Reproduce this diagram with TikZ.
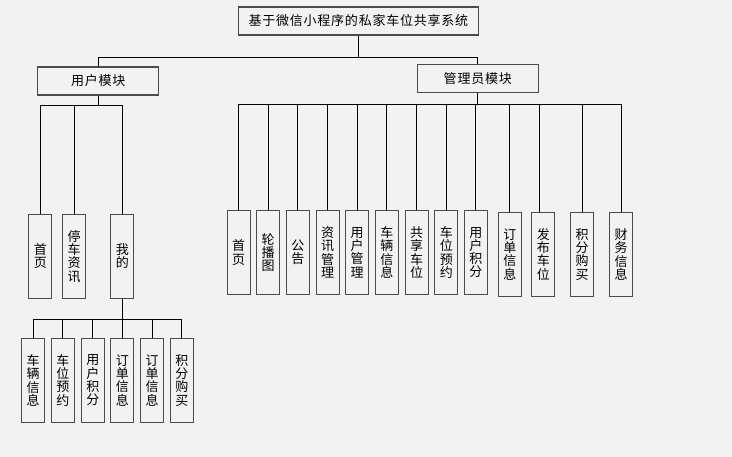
\documentclass[tikz,border=0pt]{standalone}
\usepackage{fontspec}
\setmainfont{Noto Sans CJK SC}
\newfontfamily\spacedfont[LetterSpace=6]{Noto Sans CJK SC}
\definecolor{bg}{RGB}{242,242,242}

\begin{document}
\begin{tikzpicture}[
      x=1pt, y=-1pt,
      font=\fontsize{13}{13.3}\selectfont,
      box/.style={draw=black!70, line width=1.3pt, fill=bg, inner sep=0pt, align=center},
      sysbox/.style={box, minimum width=240pt, minimum height=28pt, font=\spacedfont\fontsize{13}{14}\selectfont},
      mod/.style={box, minimum width=121pt, minimum height=28pt, font=\spacedfont\fontsize{13}{14}\selectfont},
      leaf/.style={box, minimum width=23pt, minimum height=84pt},
      wire/.style={line width=0.9pt},
    ]
    \fill[bg] (0,0) rectangle (732,457);
    \useasboundingbox (0,0) rectangle (732,457);
    \node[sysbox] (sys) at (358.4,21) {基于微信小程序的私家车位共享系统};
    \node[mod] (user) at (98.3,81) {用户模块};
    \node[mod] (admin) at (477.8,78.5) {管理员模块};
    \node[leaf] (u1) at (40.3,256.3) {首\\页};
    \node[leaf] (u2) at (74,256.3) {停\\车\\资\\讯};
    \node[leaf] (u3) at (122.3,256.3) {我\\的};
    \node[leaf] (s1) at (33.2,380.3) {车\\辆\\信\\息};
    \node[leaf] (s2) at (62.8,380.3) {车\\位\\预\\约};
    \node[leaf] (s3) at (92.8,380.3) {用\\户\\积\\分};
    \node[leaf] (s4) at (122.3,380.3) {订\\单\\信\\息};
    \node[leaf] (s5) at (152,380.3) {订\\单\\信\\息};
    \node[leaf] (s6) at (181.8,380.3) {积\\分\\购\\买};
    \node[leaf] (a1) at (238.7,252.5) {首\\页};
    \node[leaf] (a2) at (268.2,252.5) {轮\\播\\图};
    \node[leaf] (a3) at (297.8,252.5) {公\\告};
    \node[leaf] (a4) at (327.7,252.5) {资\\讯\\管\\理};
    \node[leaf] (a5) at (357.2,252.5) {用\\户\\管\\理};
    \node[leaf] (a6) at (386.8,252.5) {车\\辆\\信\\息};
    \node[leaf] (a7) at (416.7,252.5) {共\\享\\车\\位};
    \node[leaf] (a8) at (446.3,252.5) {车\\位\\预\\约};
    \node[leaf] (a9) at (475.8,252.5) {用\\户\\积\\分};
    \node[leaf] (a10) at (509.8,254.3) {订\\单\\信\\息};
    \node[leaf] (a11) at (543.3,254.3) {发\\布\\车\\位};
    \node[leaf] (a12) at (582,254.3) {积\\分\\购\\买};
    \node[leaf] (a13) at (621,254.3) {财\\务\\信\\息};
    \coordinate (rootbus) at (358.4,57);
    \coordinate (ubus) at (98.3,105);
    \coordinate (abus) at (477.8,104);
    \coordinate (sbus) at (122.3,319);
    \draw[wire] (sys.south) -- (rootbus) -| (user.north) (rootbus) -| (admin.north);
    \draw[wire] (user.south) -- (ubus) -| (u1.north) (ubus) -| (u2.north) (ubus) -| (u3.north);
    \draw[wire] (u3.south) -- (sbus) -| (s1.north) (sbus) -| (s2.north) (sbus) -| (s3.north)
      (sbus) -| (s5.north) (sbus) -| (s6.north) (sbus) -- (s4.north);
    \draw[wire] (admin.south) -- (abus) -| (a1.north) (abus) -| (a2.north) (abus) -| (a3.north)
      (abus) -| (a4.north) (abus) -| (a5.north) (abus) -| (a6.north) (abus) -| (a7.north)
      (abus) -| (a8.north) (abus) -| (a9.north) (abus) -| (a10.north)
      (abus) -| ([xshift=-4pt]a11.north) (abus) -| (a12.north) (abus) -| (a13.north);
  \end{tikzpicture}
\end{document}
